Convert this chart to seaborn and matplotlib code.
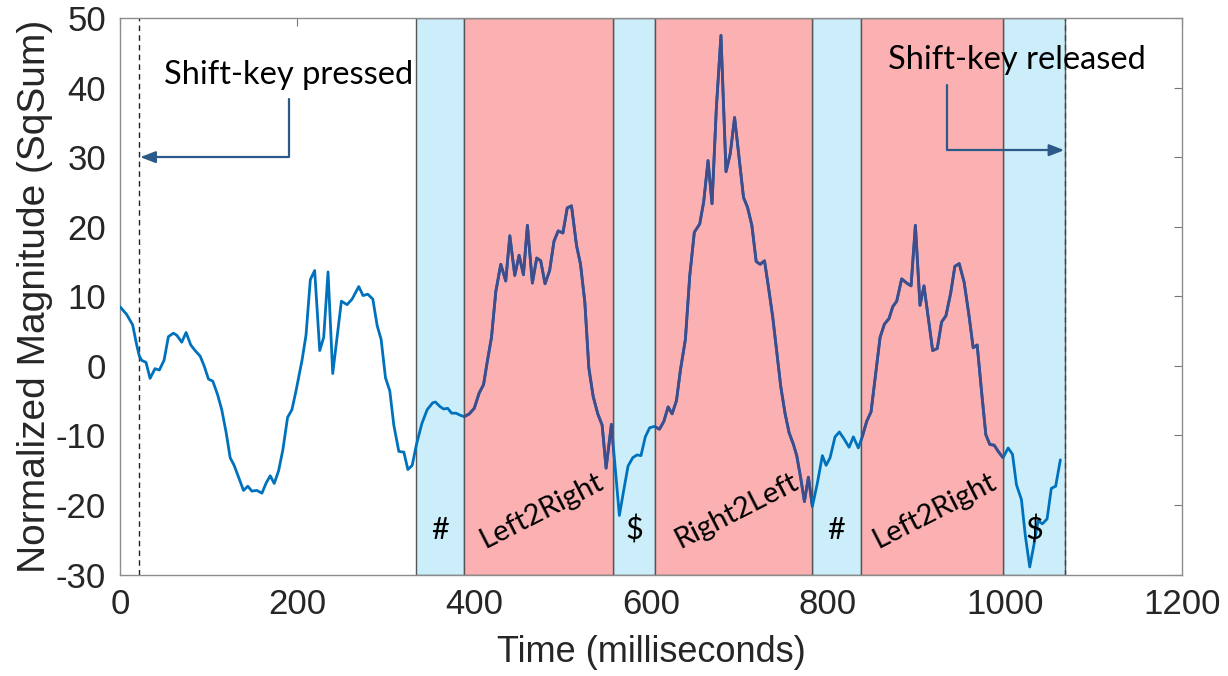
import numpy as np
import pandas as pd
import seaborn as sns
import matplotlib.pyplot as plt

# signal (time in ms, normalized magnitude)
time_ms = [0, 7.5, 14.3, 18.9, 21.9, 24.5, 29.4, 34, 39.6, 44.5, 49.8, 54.7, 60.4, 64.2, 69.8,
           74.7, 80, 84.9, 90.6, 95.1, 100, 104.9, 110.2, 115, 120, 124.5, 129, 134, 139.6,
           144.5, 149, 154.7, 160.4, 165.3, 169.8, 174.3, 179.2, 184, 189.4, 194.3, 198.9,
           205.7, 210.2, 215.1, 220, 225.7, 230.2, 235.1, 240.4, 245.3, 250.2, 256.6, 262.3,
           269.8, 274.7, 280, 285.7, 290.6, 295.1, 300, 304.9, 309.4, 315.1, 320.8, 325.3,
           330.2, 335, 341.1, 347.1, 353.4, 356.4, 362.1, 365.8, 370.3, 374.8, 379.7, 384.6,
           389, 394.7, 400.3, 405.9, 410.8, 415.3, 419.8, 424.7, 430.3, 435.9, 440.5, 446.1,
           451, 455.9, 460.4, 466, 470.9, 475.4, 480.3, 485.5, 490.4, 495.2, 500.5, 505.4,
           510.2, 515.9, 520.4, 525.3, 529.8, 534.7, 539.9, 544.8, 549.3, 555.3, 564.3, 569.2,
           574.1, 579.4, 584.2, 588.7, 593.6, 598.5, 603.8, 609.6, 614.5, 619.4, 623.9, 628.8,
           633.3, 638.9, 643.8, 649, 655.1, 659.6, 664.5, 669, 673.9, 679.1, 684.8, 689.6,
           694.5, 699.8, 704.6, 709.1, 714, 718.9, 723.4, 728.3, 732.8, 737.7, 742.2, 746.7,
           751.6, 756.1, 761, 764.7, 769.3, 773.4, 777.9, 782.4, 788.1, 793.7, 797.9, 802.4,
           808, 812.9, 818.2, 823.9, 828.7, 834.3, 839.2, 843.7, 848.7, 853.2, 858.9, 863.8,
           869, 873.2, 877.7, 883.3, 889, 893.9, 898.8, 904, 908.5, 913.4, 918.3, 923.5,
           928.4, 933.3, 938.6, 943.4, 948.3, 953.9, 959.2, 964.1, 968.6, 973.5, 978.4, 982.9,
           987.8, 993, 997.9, 1003.6, 1008.5, 1013, 1018.6, 1023.1, 1028, 1032.9, 1037.4,
           1042.3, 1047.6, 1052.4, 1057.3, 1062.6]
magnitude = [8.5, 7.4, 5.9, 3.0, 1.4, 0.8, 0.5, -1.8, -0.4, -0.6, 0.8, 4.2, 4.7, 4.4, 3.4,
             4.8, 3.0, 2.2, 1.4, 0.0, -1.9, -2.2, -4.1, -6.3, -9.6, -13.2, -14.3, -16.0, -17.9,
             -17.3, -18.0, -17.9, -18.3, -16.8, -15.8, -16.9, -15.1, -12.1, -7.4, -6.3, -3.6,
             0.8, 4.4, 12.4, 13.7, 2.2, 4.1, 13.5, -1.1, 4.1, 9.3, 8.8, 9.6,
             11.4, 10.1, 10.3, 9.6, 5.8, 3.8, -1.7, -3.6, -8.5, -12.3, -12.4, -14.9,
             -14.3, -11.3, -8.3, -6.3, -5.3, -5.2, -5.9, -6.2, -6.1, -6.8, -6.8, -7.1,
             -7.3, -6.9, -6.1, -3.9, -2.7, 0.8, 4.1, 10.7, 14.6, 12.2, 18.7, 13.0,
             15.9, 13.1, 20.2, 11.9, 15.5, 15.1, 11.8, 13.7, 17.9, 19.4, 19.1, 22.7,
             23.0, 17.3, 14.6, 9.1, -0.3, -4.4, -6.9, -8.5, -14.7, -8.4, -21.5, -17.9,
             -14.4, -13.2, -12.8, -12.9, -10.2, -8.9, -8.7, -9.1, -8.0, -5.9, -6.9, -5.0,
             -0.6, 3.8, 12.9, 19.2, 20.4, 23.6, 29.5, 23.3, 37.1, 47.5, 27.9, 30.5,
             35.7, 29.7, 24.2, 22.8, 20.2, 15.0, 14.6, 15.1, 11.3, 6.9, 1.9, -3.0,
             -6.9, -9.6, -11.3, -12.9, -16.2, -19.5, -16.0, -20.2, -16.8, -12.9, -14.3, -13.2,
             -10.2, -9.5, -10.5, -11.7, -10.2, -11.8, -10.0, -8.0, -6.6, -1.9, 4.1, 6.0,
             6.8, 8.5, 9.3, 12.5, 11.9, 11.5, 20.2, 8.7, 11.5, 6.9, 2.2, 2.5,
             6.3, 7.2, 10.4, 14.3, 14.7, 12.0, 7.4, 2.6, 3.0, -3.6, -9.9, -11.3,
             -11.4, -12.4, -13.2, -11.8, -12.7, -17.1, -19.2, -24.5, -28.9, -25.6, -22.3,
             -22.7, -22.0, -17.6, -17.3, -13.5]

# character (cyan) and gesture (red) windows
char_starts = [334, 557, 782, 998]
char_ends = [389, 605, 837, 1068]
char_labels = ['#', '$', '#', '$']
gesture_starts = [389, 605, 837]
gesture_ends = [557, 782, 998]
gesture_labels = ['Left2Right', 'Right2Left', 'Left2Right']

shift_pressed = 22
shift_released = 1068

df = pd.DataFrame({'time': time_ms, 'mag': magnitude})

sns.set_style('white')
plt.rcParams['font.family'] = ['Liberation Sans', 'DejaVu Sans']
plt.rcParams['axes.unicode_minus'] = False

fig = plt.figure(figsize=(12.28, 6.76), dpi=100)
ax = fig.add_axes([0.0977, 0.150, 0.8648, 0.8234])

blue = '#0072BD'
navy = '#414C8A'
cyan = '#CCEEFA'
pink = '#FBB0B2'

sns.lineplot(data=df, x='time', y='mag', ax=ax, color=blue, lw=2, estimator=None, zorder=3)

for s, e in zip(char_starts, char_ends):
    ax.axvspan(s, e, facecolor=cyan, edgecolor='#555555', lw=1, zorder=1)
for s, e in zip(gesture_starts, gesture_ends):
    span = ax.axvspan(s, e, facecolor=pink, edgecolor='#555555', lw=1, zorder=1)
    # darker line colour inside the gesture windows
    sns.lineplot(data=df, x='time', y='mag', ax=ax, color=navy, lw=2, estimator=None, zorder=4)
    ax.lines[-1].set_clip_path(span)

ax.axvline(shift_pressed, color='#222222', ls='--', lw=1, dashes=(4, 3), zorder=2)
ax.axvline(shift_released, color='#444444', ls='--', lw=1, dashes=(4, 3), zorder=2)

ann_font = ['Lato', 'DejaVu Sans']
for s, e, lab in zip(char_starts, char_ends, char_labels):
    ax.text((s + e) / 2, -23.6, lab, ha='center', va='center', fontsize=22,
            family=ann_font, color='black', zorder=5)
for s, e, lab in zip(gesture_starts, gesture_ends, gesture_labels):
    ax.text((s + e) / 2 + 3, -20.8, lab, ha='center', va='center', fontsize=21,
            rotation=27, family=ann_font, color='black', zorder=5)

ax.text(190, 41.8, 'Shift-key pressed', ha='center', va='center', fontsize=23.5,
        family=ann_font, color='black', zorder=5)
ax.text(1014, 44.0, 'Shift-key released', ha='center', va='center', fontsize=23.5,
        family=ann_font, color='black', zorder=5)

arrow_col = '#2B5A88'
ax.annotate('', xy=(shift_pressed + 1, 30), xytext=(191, 38.3),
            arrowprops=dict(arrowstyle='-|>,head_length=0.9,head_width=0.35', color=arrow_col,
                            lw=1.6, shrinkA=0, shrinkB=0,
                            connectionstyle='angle,angleA=90,angleB=0,rad=0'), zorder=6)
ax.annotate('', xy=(shift_released - 1, 31), xytext=(934, 40.3),
            arrowprops=dict(arrowstyle='-|>,head_length=0.9,head_width=0.35', color=arrow_col,
                            lw=1.6, shrinkA=0, shrinkB=0,
                            connectionstyle='angle,angleA=90,angleB=0,rad=0'), zorder=6)

ax.set_xlim(0, 1200)
ax.set_ylim(-30, 50)
ax.set_xticks(range(0, 1201, 200))
ax.set_yticks(range(-30, 51, 10))
ax.tick_params(direction='in', length=6, width=0.8, color='#777777', labelsize=25,
               labelcolor='#262626', top=True, right=True, pad=10)
for sp in ax.spines.values():
    sp.set_color('#8c8c8c')
    sp.set_linewidth(1)

ax.set_xlabel('Time (milliseconds)', fontsize=26, color='#262626', labelpad=10)
ax.set_ylabel('Normalized Magnitude (SqSum)', fontsize=28, color='#262626', labelpad=2)

fig.savefig('out.png', dpi=100)
